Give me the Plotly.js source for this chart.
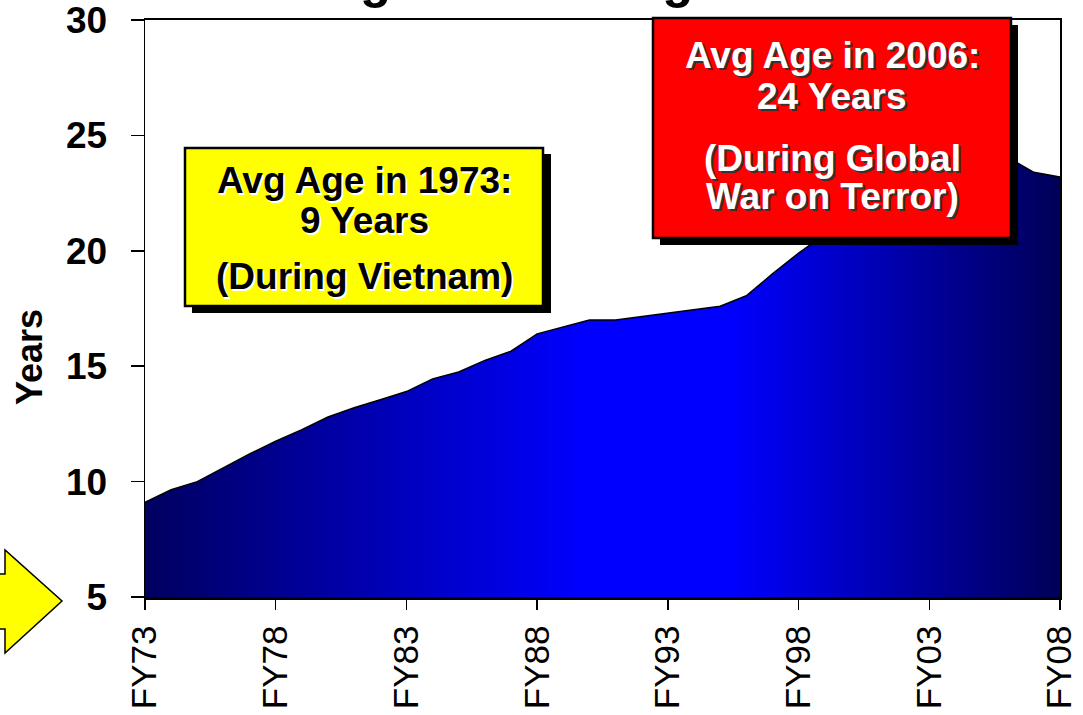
<!DOCTYPE html>
<html>
<head>
<meta charset="utf-8">
<script src="https://cdn.plot.ly/plotly-3.0.1.min.js"></script>
<style>
  html, body { margin: 0; padding: 0; background: #fff; }
  #chart { width: 1083px; height: 715px; }
</style>
</head>
<body>
<div id="chart"></div>
<script>
// fiscal years and average fleet age (years)
var years = [1973, 1974, 1975, 1976, 1977, 1978, 1979, 1980, 1981, 1982,
             1983, 1984, 1985, 1986, 1987, 1988, 1989, 1990, 1991, 1992,
             1993, 1994, 1995, 1996, 1997, 1998, 1999, 2000, 2001, 2002,
             2003, 2004, 2005, 2006, 2007, 2008];
var avgAge = [9.1, 9.65, 10.0, 10.6, 11.2, 11.75, 12.25, 12.8, 13.2, 13.55,
              13.9, 14.45, 14.75, 15.25, 15.65, 16.4, 16.7, 17.0, 17.0, 17.15,
              17.3, 17.45, 17.6, 18.05, 19.0, 19.9, 20.7, 21.3, 21.9, 22.5,
              23.0, 23.4, 23.8, 24.05, 23.4, 23.2];

var tickYears = [1973, 1978, 1983, 1988, 1993, 1998, 2003, 2008];
var tickLabels = ["FY73", "FY78", "FY83", "FY88", "FY93", "FY98", "FY03", "FY08"];

var FONT = "Liberation Sans, Arial, sans-serif";

// pixel -> paper helpers (plot area is 145..1060 by 20..597)
function px(x) { return (x - 145) / 915; }
function py(y) { return (597 - y) / 577; }

var trace = {
  x: years,
  y: avgAge,
  type: "scatter",
  mode: "lines",
  fill: "tozeroy",
  line: { color: "#000", width: 1.5 },
  fillgradient: {
    type: "horizontal",
    start: 1973,
    stop: 2008,
    colorscale: [[0, "#000060"], [0.48, "#0000ff"], [0.64, "#0000ff"], [1, "#000058"]]
  },
  hoverinfo: "skip"
};

var arrow = "M " + px(-10) + "," + py(574) +
            " L " + px(5) + "," + py(574) +
            " L " + px(5) + "," + py(550) +
            " L " + px(62) + "," + py(601) +
            " L " + px(5) + "," + py(653) +
            " L " + px(5) + "," + py(629) +
            " L " + px(-10) + "," + py(629) + " Z";

var shapes = [
  // yellow box + shadow
  { type: "rect", xref: "paper", yref: "paper", x0: px(192), x1: px(551), y0: py(313), y1: py(154),
    fillcolor: "#000", line: { width: 0 } },
  { type: "rect", xref: "paper", yref: "paper", x0: px(185), x1: px(543), y0: py(306), y1: py(148),
    fillcolor: "#ffff00", line: { color: "#000", width: 2.5 } },
  // red box + shadow
  { type: "rect", xref: "paper", yref: "paper", x0: px(660), x1: px(1018), y0: py(245), y1: py(25),
    fillcolor: "#000", line: { width: 0 } },
  { type: "rect", xref: "paper", yref: "paper", x0: px(653), x1: px(1011), y0: py(238), y1: py(18),
    fillcolor: "#ff0000", line: { color: "#000", width: 2.5 } },
  // yellow block arrow at the bottom left
  { type: "path", xref: "paper", yref: "paper", path: arrow,
    fillcolor: "#ffff00", line: { color: "#000", width: 1.5 } }
];

function boxText(text, x, y, color, shadow) {
  return {
    xref: "paper", yref: "paper", x: px(x), y: py(y),
    xanchor: "center", yanchor: "middle", showarrow: false,
    text: "<b>" + text + "</b>",
    font: { family: FONT, size: 37, color: color, shadow: shadow }
  };
}

var annotations = [
  boxText("Avg Age in 1973:", 364, 180, "#000", "2px 2px 0px #fff"),
  boxText("9 Years", 364, 221, "#000", "2px 2px 0px #fff"),
  boxText("(During Vietnam)", 364, 276, "#000", "2px 2px 0px #fff"),
  boxText("Avg Age in 2006:", 832, 55, "#fff", "2px 2px 0px #333"),
  boxText("24 Years", 832, 96, "#fff", "2px 2px 0px #333"),
  boxText("(During Global", 832, 158, "#fff", "2px 2px 0px #333"),
  boxText("War on Terror)", 832, 196, "#fff", "2px 2px 0px #333"),
  // y axis title
  { xref: "paper", yref: "paper", x: px(29), y: py(357), xanchor: "center", yanchor: "middle",
    showarrow: false, textangle: -90, text: "<b>Years</b>",
    font: { family: FONT, size: 36, color: "#000" } },
  // chart title, mostly cut off by the top edge
  { xref: "paper", yref: "paper", x: px(471), y: py(-20), xanchor: "center", yanchor: "middle",
    showarrow: false, text: "<b>Average Aircraft Age</b>",
    font: { family: FONT, size: 51, color: "#000" } }
];

var layout = {
  width: 1083,
  height: 715,
  margin: { l: 145, r: 23, t: 20, b: 118, pad: 0 },
  paper_bgcolor: "#fff",
  plot_bgcolor: "#fff",
  showlegend: false,
  font: { family: FONT, color: "#000" },
  xaxis: {
    range: [1973, 2008],
    tickvals: tickYears,
    ticktext: tickLabels,
    tickangle: -90,
    ticks: "outside",
    ticklen: 10,
    tickwidth: 1.5,
    tickcolor: "#000",
    ticklabelstandoff: 2,
    ticklabeloverflow: "allow",
    tickfont: { family: FONT, size: 35, color: "#000" },
    showgrid: false,
    zeroline: false,
    showline: true,
    linecolor: "#000",
    linewidth: 2.5,
    mirror: true
  },
  yaxis: {
    range: [5, 30],
    dtick: 5,
    tick0: 5,
    ticks: "outside",
    ticklen: 13,
    tickwidth: 1.5,
    tickcolor: "#000",
    ticklabelstandoff: 16,
    ticklabeloverflow: "allow",
    tickfont: { family: FONT, size: 37, color: "#000", weight: "bold" },
    showgrid: false,
    zeroline: false,
    showline: true,
    linecolor: "#000",
    linewidth: 1.5,
    mirror: true
  },
  shapes: shapes,
  annotations: annotations
};

Plotly.newPlot("chart", [trace], layout, { staticPlot: true, displayModeBar: false });
</script>
</body>
</html>
